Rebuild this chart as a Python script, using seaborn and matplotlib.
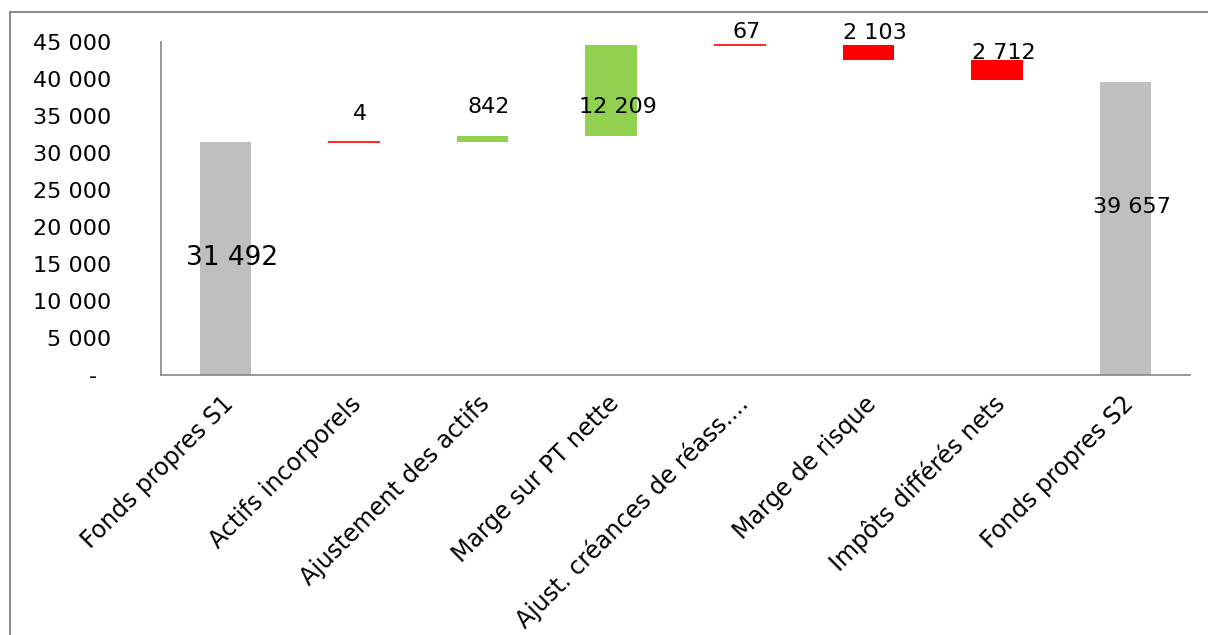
import matplotlib
matplotlib.use("Agg")
import matplotlib.pyplot as plt
from matplotlib.patches import Rectangle
from matplotlib.transforms import ScaledTranslation
import numpy as np
import pandas as pd
import seaborn as sns

# Bridge from S1 equity to S2 equity
categories = ["Fonds propres S1", "Actifs incorporels", "Ajustement des actifs",
              "Marge sur PT nette", "Ajust. créances de réass....", "Marge de risque",
              "Impôts différés nets", "Fonds propres S2"]
values = [31492, 4, 842, 12209, 67, -2103, -2712, 39657]
is_total = [True, False, False, False, False, False, False, True]
value_labels = ["31 492", "4", "842", "12 209", "67", "2 103", "2 712", "39 657"]

y_ticks = [0, 5000, 10000, 15000, 20000, 25000, 30000, 35000, 40000, 45000]
y_tick_labels = ["-  ", "5 000", "10 000", "15 000", "20 000", "25 000",
                 "30 000", "35 000", "40 000", "45 000"]

GREY = "#BFBFBF"
GREEN = "#92D050"
RED = "#FF0000"
AXIS = "#868686"

sns.set_theme(style="white")
plt.rcParams["font.family"] = ["DejaVu Sans"]
plt.rcParams["text.color"] = "black"
plt.rcParams["xtick.color"] = "black"
plt.rcParams["ytick.color"] = "black"

fig = plt.figure(figsize=(12.08, 6.35), dpi=100)
ax = fig.add_axes([161 / 1208, 1 - 375 / 635, (1190 - 161) / 1208, (375 - 42) / 635])

# Total bars through seaborn
totals = pd.DataFrame({
    "cat": [c for c, t in zip(categories, is_total) if t],
    "val": [v for v, t in zip(values, is_total) if t],
})
sns.barplot(data=totals, x="cat", y="val", order=categories, color=GREY,
            saturation=1, width=0.4, ax=ax, edgecolor="none", linewidth=0)

# Floating bars for the movements
running = 0.0
tops = []
for i, (v, t) in enumerate(zip(values, is_total)):
    if t:
        running = v
        tops.append(v)
        continue
    base = running
    running = running + v
    lo, hi = min(base, running), max(base, running)
    color = GREEN if v > 0 else RED
    if abs(v) < 100:
        ax.bar(i, hi - lo, bottom=lo, width=0.4, color=RED, edgecolor=RED,
               linewidth=1.2, zorder=3)
    else:
        ax.bar(i, hi - lo, bottom=lo, width=0.4, color=color, linewidth=0, zorder=3)
    tops.append(hi)

# Value labels
label_y = [values[0] / 2, tops[1] + 3800, tops[2] + 3900, tops[3] - 8300,
           tops[4] + 1750, tops[5] + 1600, tops[6] + 1000, values[7] * 0.572]
label_size = [19, 16, 16, 16, 16, 16, 16, 16]
for i, (lab, y, fs) in enumerate(zip(value_labels, label_y, label_size)):
    ax.text(i + 0.05, y, lab, ha="center", va="center", fontsize=fs,
            color="black", zorder=5)

ax.set_xlim(-0.5, len(categories) - 0.5)
ax.set_ylim(0, 45000)
ax.set_yticks(y_ticks)
ax.set_yticklabels(y_tick_labels, fontsize=16)
ax.set_xlabel("")
ax.set_ylabel("")

# Category ticks sit on the boundaries between categories
ax.set_xticks(np.arange(len(categories) + 1) - 0.5)
ax.set_xticklabels([])
ax.set_xticks(np.arange(len(categories)), minor=True)
ax.set_xticklabels(categories, minor=True, rotation=45, ha="right", va="center",
                   rotation_mode="anchor", fontsize=17)
ax.tick_params(axis="x", which="minor", length=0, pad=18)
ax.tick_params(axis="x", which="major", length=7, width=1, color=AXIS, direction="out")
ax.tick_params(axis="y", length=7, width=1, color=AXIS, direction="out", pad=29)
shift = ScaledTranslation(4 / 100, 0, fig.dpi_scale_trans)
for lbl in ax.get_xticklabels(minor=True):
    lbl.set_transform(lbl.get_transform() + shift)

for side in ["top", "right"]:
    ax.spines[side].set_visible(False)
for side in ["left", "bottom"]:
    ax.spines[side].set_color(AXIS)
    ax.spines[side].set_linewidth(1.2)
ax.grid(False)

# Chart area border
fig.patches.append(Rectangle((10 / 1208, -0.05), 1.1, 1 - 12 / 635 + 0.05,
                             transform=fig.transFigure, fill=False,
                             edgecolor="#8C8C8C", linewidth=1.5))

fig.savefig("out.png", dpi=100)
